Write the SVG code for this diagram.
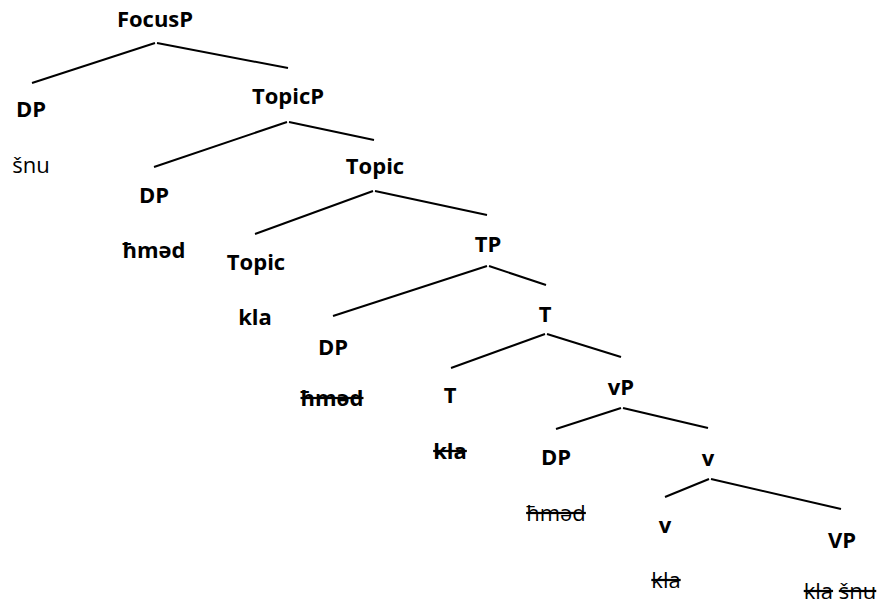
<svg xmlns="http://www.w3.org/2000/svg" width="880" height="606" viewBox="0 0 880 606">
<style>
text{font-family:"Open Sans","Noto Sans","DejaVu Sans",sans-serif;font-size:22px;fill:#000;text-anchor:middle}
.b{font-weight:bold}
.s{text-decoration:line-through}
#edges line{stroke:#000;stroke-width:2;stroke-linecap:butt}
</style>
<rect width="880" height="606" fill="#fff"/>
<g id="edges">
<line x1="155" y1="43" x2="32" y2="83"/>
<line x1="157" y1="43" x2="288" y2="68"/>
<line x1="287" y1="122" x2="154" y2="167"/>
<line x1="289" y1="122" x2="374" y2="140"/>
<line x1="373" y1="191" x2="255" y2="234"/>
<line x1="375" y1="191" x2="487" y2="215"/>
<line x1="487" y1="266" x2="333" y2="316"/>
<line x1="489" y1="266" x2="546" y2="285"/>
<line x1="545" y1="334" x2="451" y2="368"/>
<line x1="547" y1="334" x2="621" y2="357"/>
<line x1="621" y1="408" x2="556" y2="429"/>
<line x1="623" y1="408" x2="708" y2="428"/>
<line x1="709" y1="479" x2="665" y2="497"/>
<line x1="711" y1="479" x2="841" y2="509"/>
</g>
<g id="focusP"><text class="b" x="155" y="27">FocusP</text></g>
<g id="dp1"><text class="b" x="31" y="117">DP</text><text x="31" y="173">šnu</text></g>
<g id="topicP"><text class="b" x="288" y="104">TopicP</text></g>
<g id="dp2"><text class="b" x="154" y="203">DP</text><text class="b" x="154" y="258">ħməd</text></g>
<g id="topicBar"><text class="b" x="375" y="174">Topic</text></g>
<g id="topicHead"><text class="b" x="256" y="270">Topic</text><text class="b" x="255" y="325">kla</text></g>
<g id="tp"><text class="b" x="488" y="252">TP</text></g>
<g id="dp3"><text class="b" x="333" y="355">DP</text><text class="b s" x="332" y="406">ħməd</text></g>
<g id="tBar"><text class="b" x="545" y="322">T</text></g>
<g id="tHead"><text class="b" x="450" y="403">T</text><text class="b s" x="450" y="459">kla</text></g>
<g id="vP"><text class="b" x="621" y="395">vP</text></g>
<g id="dp4"><text class="b" x="556" y="465">DP</text><text class="s" x="556" y="521">ħməd</text></g>
<g id="vBar"><text class="b" x="708" y="466">v</text></g>
<g id="vHead"><text class="b" x="665" y="533">v</text><text class="s" x="666" y="588">kla</text></g>
<g id="VP"><text class="b" x="842" y="548">VP</text><text x="840" y="599"><tspan class="s">kla</tspan> <tspan class="s">šnu</tspan></text></g>
</svg>
